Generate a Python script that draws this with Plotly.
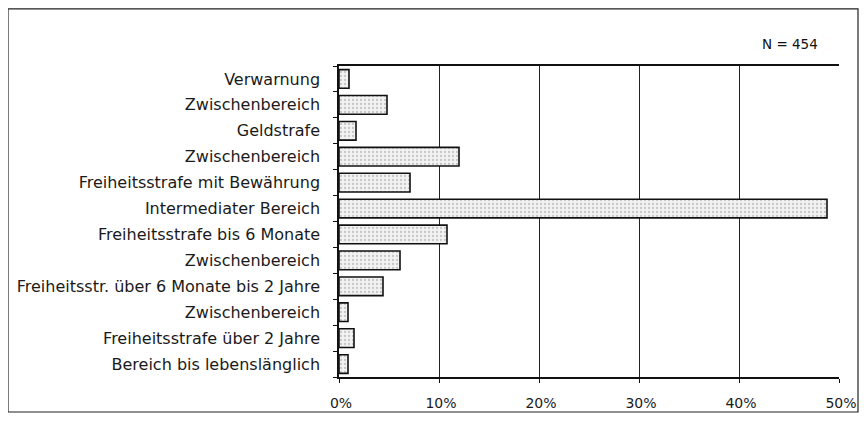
import plotly.graph_objects as go

categories = [
    "Verwarnung",
    "Zwischenbereich",
    "Geldstrafe",
    "Zwischenbereich",
    "Freiheitsstrafe mit Bewährung",
    "Intermediater Bereich",
    "Freiheitsstrafe bis 6 Monate",
    "Zwischenbereich",
    "Freiheitsstr. über 6 Monate bis 2 Jahre",
    "Zwischenbereich",
    "Freiheitsstrafe über 2 Jahre",
    "Bereich bis lebenslänglich",
]
values = [0.010, 0.048, 0.017, 0.120, 0.071, 0.488, 0.108, 0.061, 0.044, 0.009, 0.015, 0.009]
x_ticks = [0, 0.1, 0.2, 0.3, 0.4, 0.5]
x_ticklabels = ["0%", "10%", "20%", "30%", "40%", "50%"]
n_label = "N = 454"

FONT = "DejaVu Sans, Liberation Sans, Arial, sans-serif"

positions = list(range(len(categories)))
boundaries = [p - 0.5 for p in positions] + [positions[-1] + 0.5]

fig = go.Figure(
    go.Bar(
        x=values,
        y=positions,
        orientation="h",
        marker=dict(
            color="#ececec",
            line=dict(color="#111111", width=1.6),
            pattern=dict(shape=".", fgcolor="#9a9a9a", bgcolor="#f2f2f2", size=4, solidity=0.25),
        ),
        width=0.72,
        customdata=categories,
        hovertemplate="%{customdata}: %{x:.1%}<extra></extra>",
    )
)

fig.update_layout(
    width=851,
    height=409,
    margin=dict(l=331, r=20, t=58, b=40, autoexpand=False),
    paper_bgcolor="white",
    plot_bgcolor="white",
    showlegend=False,
    font=dict(family=FONT, size=14, color="#1a1a1a"),
    xaxis=dict(
        range=[0, 0.5],
        tickvals=x_ticks,
        ticktext=x_ticklabels,
        showgrid=True,
        gridcolor="#222222",
        gridwidth=1,
        showline=True,
        linecolor="#111111",
        linewidth=1.5,
        mirror=True,
        ticks="outside",
        ticklen=4,
        tickcolor="#111111",
        zeroline=False,
        automargin=False,
        tickfont=dict(size=14),
        ticklabelstandoff=8,
        ticklabelshift=2,
        ticklabeloverflow="allow",
    ),
    yaxis=dict(
        range=[len(categories) - 0.5, -0.5],
        tickvals=positions,
        ticktext=categories,
        showline=True,
        linecolor="#111111",
        linewidth=1.5,
        ticks="",
        ticklabelstandoff=14,
        showgrid=False,
        zeroline=False,
        automargin=False,
        tickfont=dict(size=16),
        minor=dict(
            tickvals=boundaries,
            ticks="outside",
            ticklen=4,
            tickcolor="#111111",
            showgrid=False,
        ),
    ),
    shapes=[
        dict(
            type="rect",
            xref="paper",
            yref="paper",
            x0=-0.662,
            x1=1.038,
            y0=-0.1125,
            y1=1.184,
            line=dict(color="#222222", width=1.2),
            fillcolor="rgba(0,0,0,0)",
            layer="below",
        )
    ],
    annotations=[
        dict(
            text=n_label,
            xref="paper",
            yref="paper",
            x=0.902,
            y=1.07,
            showarrow=False,
            xanchor="center",
            yanchor="middle",
            font=dict(size=13.5, color="#111111"),
        )
    ],
)

fig.write_html("out.html")
